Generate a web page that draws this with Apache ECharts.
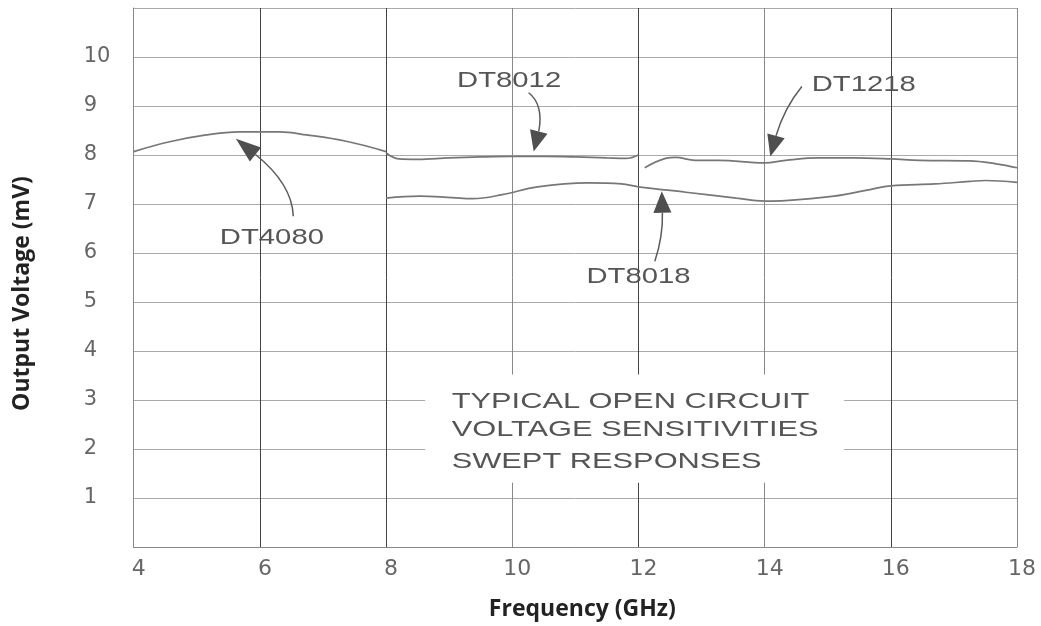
<!DOCTYPE html>
<html>
<head>
<meta charset="utf-8">
<title>Output Voltage vs Frequency</title>
<script src="https://cdn.jsdelivr.net/npm/echarts@6/dist/echarts.min.js"></script>
<style>
  html, body { margin: 0; padding: 0; background: #fff; }
  #main { width: 1041px; height: 626px; }
</style>
</head>
<body>
<div id="main"></div>
<script>
// values
var dt4080F = [4, 4.57, 5.15, 5.68, 6.31, 6.74, 7.37, 8];
var dt4080V = [8.07, 8.27, 8.41, 8.47, 8.47, 8.41, 8.28, 8.07];

var dt8012F = [8, 8.2, 8.5, 9, 9.5, 10, 10.5, 11, 11.5, 11.8, 12];
var dt8012V = [8.04, 7.92, 7.91, 7.94, 7.96, 7.97, 7.97, 7.96, 7.94, 7.93, 8.0];

var dt1218F = [12.1, 12.43, 12.59, 12.9, 13.27, 14, 14.33, 14.86, 15.4, 16, 16.46, 17.25, 17.67, 18];
var dt1218V = [7.74, 7.93, 7.95, 7.89, 7.89, 7.84, 7.89, 7.94, 7.94, 7.92, 7.89, 7.88, 7.82, 7.74];

var dt8018F = [8, 8.53, 9.05, 9.37, 9.84, 10.4, 11.2, 11.73, 12, 12.75, 13.55, 14, 14.33, 15.1, 15.65, 16, 16.7, 17.25, 17.5, 18];
var dt8018V = [7.12, 7.16, 7.13, 7.11, 7.19, 7.35, 7.43, 7.41, 7.35, 7.24, 7.12, 7.06, 7.07, 7.16, 7.29, 7.37, 7.41, 7.46, 7.48, 7.44];

var yTicks = ['1', '2', '3', '4', '5', '6', '7', '8', '9', '10'];

// annotation labels, [freq, mV] of text centre
var labelNames = ['DT8012', 'DT1218', 'DT4080', 'DT8018'];
var labelPos = [[9.95, 9.51], [15.57, 9.44], [6.19, 6.31], [12.0, 5.52]];

// arrows: tail, control, head base, tip (in data units)
var arrowTail = [[10.26, 9.27], [14.59, 9.40], [6.53, 6.75], [12.26, 5.83]];
var arrowCtrl = [[10.5, 9.03], [14.31, 8.96], [6.51, 7.41], [12.39, 6.34]];
var arrowBase = [[10.42, 8.48], [14.18, 8.39], [5.93, 8.01], [12.38, 6.82]];
var arrowTip = [[10.34, 8.07], [14.09, 7.97], [5.62, 8.33], [12.37, 7.26]];

var noteLines = ['TYPICAL OPEN CIRCUIT', 'VOLTAGE SENSITIVITIES', 'SWEPT RESPONSES'];
var noteLineV = [2.97, 2.39, 1.73];
var noteLeft = 9.04;
var noteBox = [[8.62, 3.52], [15.26, 1.31]];

function pairs(f, v) {
    var out = [];
    for (var i = 0; i < f.length; i++) out.push([f[i], v[i]]);
    return out;
}

var chart = echarts.init(document.getElementById('main'));

function curve(name, f, v) {
    return {
        name: name,
        type: 'line',
        data: pairs(f, v),
        smooth: 0.4,
        showSymbol: false,
        silent: true,
        lineStyle: { color: '#777', width: 1.7 }
    };
}

var option = {
    animation: false,
    grid: { left: 133.7, right: 24, top: 8, bottom: 78.7 },
    xAxis: {
        type: 'value',
        min: 4,
        max: 18,
        interval: 2,
        name: 'Frequency (GHz)',
        nameLocation: 'middle',
        nameGap: 51,
        nameTextStyle: {
            fontFamily: 'Open Sans', fontWeight: 'bold', fontSize: 23,
            color: '#222', padding: [0, 0, 0, 14]
        },
        axisLine: { lineStyle: { color: '#888', width: 1 } },
        axisTick: { show: false },
        axisLabel: {
            margin: 11, fontFamily: 'DejaVu Sans', fontSize: 22, color: '#666',
            padding: [0, 0, 0, 10]
        },
        splitLine: {
            show: true,
            lineStyle: {
                color: ['#888', '#444', '#444', '#888', '#444', '#888', '#444', '#888'],
                width: 1
            }
        }
    },
    yAxis: {
        type: 'value',
        min: 0,
        max: 11,
        interval: 1,
        name: 'Output Voltage (mV)',
        nameLocation: 'middle',
        nameGap: 100,
        nameTextStyle: {
            fontFamily: 'Open Sans', fontWeight: 'bold', fontSize: 23, color: '#222',
            padding: [0, 32, 0, 0]
        },
        axisLine: { show: true, lineStyle: { color: '#888', width: 1 } },
        axisTick: { show: false },
        axisLabel: {
            margin: 50, align: 'left', fontFamily: 'DejaVu Sans', fontSize: 21, color: '#666',
            formatter: function (val) {
                var s = String(val);
                return yTicks.indexOf(s) >= 0 ? s : '';
            }
        },
        splitLine: { show: true, lineStyle: { color: '#aaa', width: 1 } }
    },
    series: [
        curve('DT4080', dt4080F, dt4080V),
        curve('DT8012', dt8012F, dt8012V),
        curve('DT1218', dt1218F, dt1218V),
        curve('DT8018', dt8018F, dt8018V)
    ]
};

chart.setOption(option);

function px(p) {
    return chart.convertToPixel({ gridIndex: 0 }, p);
}

var graphics = [];

// arrows
for (var i = 0; i < arrowTail.length; i++) {
    var t = px(arrowTail[i]), c = px(arrowCtrl[i]), b = px(arrowBase[i]), tip = px(arrowTip[i]);
    graphics.push({
        type: 'bezierCurve',
        z: 50,
        shape: { x1: t[0], y1: t[1], cpx1: c[0], cpy1: c[1], x2: b[0], y2: b[1] },
        style: { stroke: '#5a5a5a', lineWidth: 1.5, fill: null }
    });
    var dx = tip[0] - b[0], dy = tip[1] - b[1];
    var len = Math.sqrt(dx * dx + dy * dy);
    var nx = -dy / len * 9, ny = dx / len * 9;
    graphics.push({
        type: 'polygon',
        z: 51,
        shape: { points: [[tip[0], tip[1]], [b[0] + nx, b[1] + ny], [b[0] - nx, b[1] - ny]] },
        style: { fill: '#4f4f4f' }
    });
}

// curve labels
for (var j = 0; j < labelNames.length; j++) {
    var lp = px(labelPos[j]);
    graphics.push({
        type: 'text',
        z: 52,
        x: lp[0],
        y: lp[1],
        scaleX: 1.33,
        style: {
            text: labelNames[j],
            x: 0, y: 0,
            align: 'center',
            verticalAlign: 'middle',
            font: '22px "Liberation Sans"',
            fill: '#555'
        }
    });
}

// note box covering the grid
var b0 = px(noteBox[0]), b1 = px(noteBox[1]);
graphics.push({
    type: 'rect',
    z: 60,
    shape: { x: b0[0], y: b0[1], width: b1[0] - b0[0], height: b1[1] - b0[1] },
    style: { fill: '#fff' }
});
for (var k = 0; k < noteLines.length; k++) {
    var np = px([noteLeft, noteLineV[k]]);
    graphics.push({
        type: 'text',
        z: 61,
        x: np[0],
        y: np[1],
        scaleX: 1.4,
        style: {
            text: noteLines[k],
            x: 0, y: 0,
            align: 'left',
            verticalAlign: 'middle',
            font: '22px "Liberation Sans"',
            fill: '#555'
        }
    });
}

chart.setOption({ graphic: graphics });
</script>
</body>
</html>
